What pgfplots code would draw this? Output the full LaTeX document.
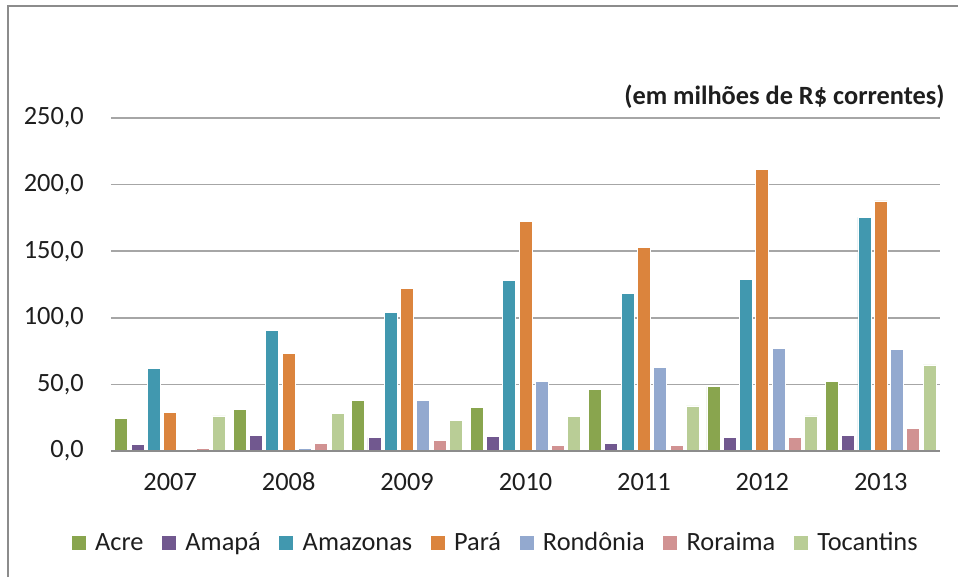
\documentclass[border=0pt]{standalone}
\usepackage{fontspec}
\setmainfont{Carlito}
\usepackage{pgfplots}
\pgfplotsset{compat=1.18}

\definecolor{acre}{RGB}{137,165,78}
\definecolor{amapa}{RGB}{113,88,143}
\definecolor{amazonas}{RGB}{65,152,175}
\definecolor{para}{RGB}{219,132,61}
\definecolor{rondonia}{RGB}{147,169,207}
\definecolor{roraima}{RGB}{209,146,146}
\definecolor{tocantins}{RGB}{185,205,150}
\definecolor{textc}{RGB}{30,30,30}
\definecolor{gridc}{RGB}{166,166,166}
\definecolor{framec}{RGB}{140,140,140}

\pgfplotsset{
  sq/.style={fill=#1, draw=white, line width=0.5pt,
    legend image code/.code={\fill[#1] (0cm,-0.13cm) rectangle (0.26cm,0.13cm);}},
}

\begin{document}
\begin{tikzpicture}
\path[use as bounding box] (0,0) rectangle (19.16,11.54);
\draw[line width=1.2pt, framec] (0.16,0) -- (0.16,11.42) -- (19.16,11.42);
\node[anchor=east, inner sep=0, text=textc, font=\fontsize{15}{18}\selectfont\bfseries]
  at (18.9,9.6) {(em milhões de R\$ correntes)};

\begin{axis}[
  at={(2.22cm,2.52cm)}, anchor=south west,
  scale only axis, width=16.58cm, height=6.66cm,
  xmin=-0.5, xmax=6.5, ymin=0, ymax=250,
  ybar=0.066cm, bar width=0.26cm,
  xtick={0,...,6},
  xticklabels={2007,2008,2009,2010,2011,2012,2013},
  ytick={0,50,...,250},
  scaled y ticks=false,
  major tick length=0pt,
  axis line style={draw=none},
  ymajorgrids,
  major grid style={draw=gridc, line width=0.9pt},
  tick label style={font=\fontsize{15}{18}\selectfont, text=textc},
  yticklabel style={xshift=-0.42cm, /pgf/number format/.cd, fixed, fixed zerofill, precision=1, use comma, assume math mode=true},
  xticklabel style={yshift=-0.42cm, text height=1.5ex, text depth=0.2ex},
  legend style={at={(0.465,-0.276)}, anchor=center, draw=none, fill=none,
    legend columns=-1, font=\fontsize{15}{18}\selectfont, text=textc,
    /tikz/every odd column/.append style={column sep=0.12cm},
    /tikz/every even column/.append style={column sep=0.3cm}},
]
\addplot[sq=acre] coordinates {(0,24.5) (1,31.3) (2,37.8) (3,32.7) (4,46.0) (5,48.3) (6,52.3)};
\addplot[sq=amapa] coordinates {(0,5.0) (1,11.8) (2,10.0) (3,11.0) (4,6.0) (5,10.0) (6,11.8)};
\addplot[sq=amazonas] coordinates {(0,62.0) (1,90.6) (2,104.0) (3,128.0) (4,118.3) (5,129.0) (6,175.4)};
\addplot[sq=para] coordinates {(0,29.0) (1,73.3) (2,122.0) (3,172.4) (4,153.0) (5,211.7) (6,187.7)};
\addplot[sq=rondonia] coordinates {(0,1.2) (1,2.2) (2,38.0) (3,52.3) (4,62.8) (5,77.0) (6,76.3)};
\addplot[sq=roraima] coordinates {(0,2.2) (1,6.0) (2,7.7) (3,3.8) (4,4.2) (5,10.0) (6,16.8)};
\addplot[sq=tocantins] coordinates {(0,26.3) (1,28.0) (2,23.0) (3,26.0) (4,33.8) (5,26.3) (6,64.6)};
\draw[framec, line width=1pt] (rel axis cs:0,0) -- (rel axis cs:1,0);
\legend{Acre, Amapá, Amazonas, Pará, Rondônia, Roraima, Tocantins}
\end{axis}
\end{tikzpicture}
\end{document}
